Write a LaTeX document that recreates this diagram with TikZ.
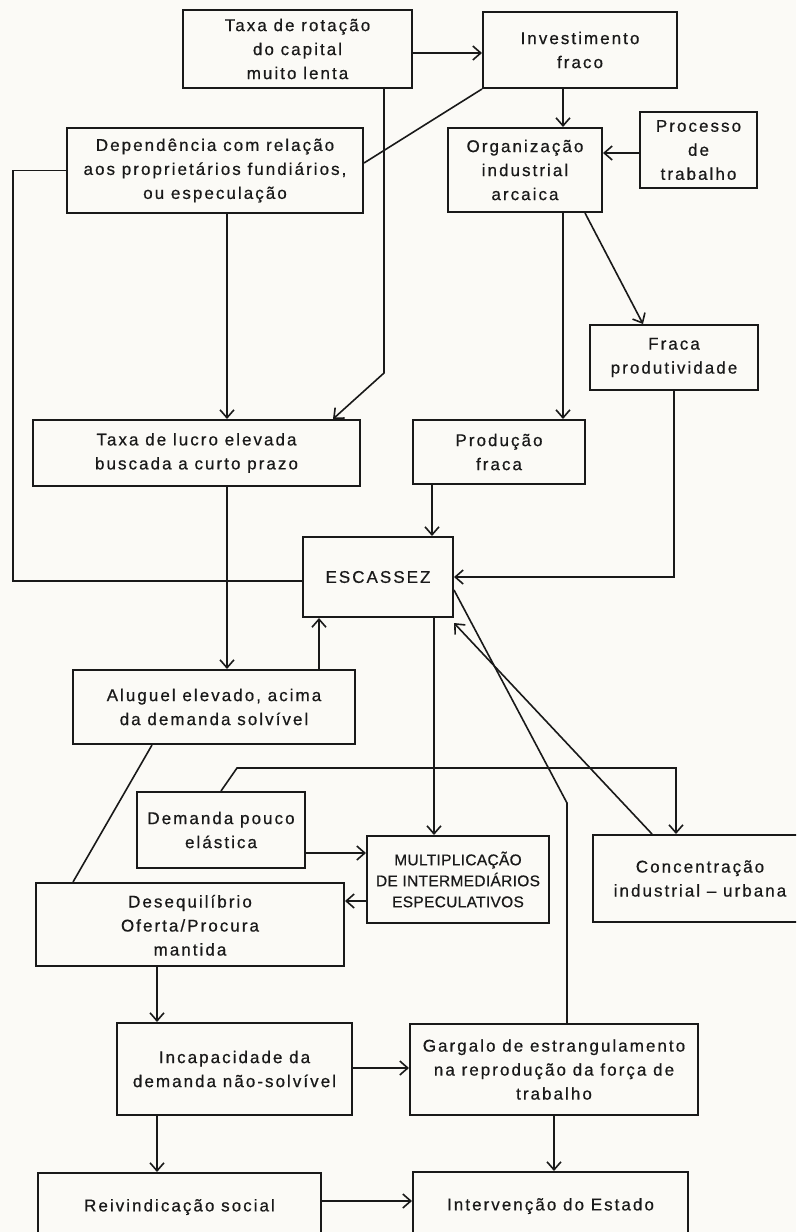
\documentclass[tikz,border=0pt]{standalone}
\usepackage{fontspec}
\setmainfont[LetterSpace=12,FakeBold=0.6]{Liberation Sans}
\newfontfamily\capsfont[LetterSpace=2,FakeBold=0.6]{Liberation Sans}
\usetikzlibrary{arrows.meta}
\definecolor{paper}{RGB}{251,250,246}
\definecolor{ink}{RGB}{25,25,25}
\begin{document}
\begin{tikzpicture}[x=1pt,y=-1pt,
  box/.style={draw=ink, line width=2pt, line join=miter, inner sep=2pt, align=center,
              text=ink, font=\fontsize{17}{24}\selectfont},
  arr/.style={draw=ink, line width=1.6pt, -{Straight Barb[length=8pt,width=14pt,line width=1.6pt]}},
  ln/.style={draw=ink, line width=1.6pt}]
\clip (0,0) rectangle (796,1232);
\fill[paper] (0,0) rectangle (796,1232);

% nodes
\node[box, minimum width=229pt, minimum height=78pt] (T1) at (297.5,49) {Taxa de rotação\\do capital\\muito lenta};
\node[box, minimum width=194pt, minimum height=76pt] (I) at (580,50) {Investimento\\fraco};
\node[box, minimum width=296pt, minimum height=85pt] (D) at (215,170.5) {Dependência com relação\\aos proprietários fundiários,\\ou especulação};
\node[box, minimum width=154pt, minimum height=84pt] (O) at (525,170) {Organização\\industrial\\arcaica};
\node[box, minimum width=117pt, minimum height=76pt] (P) at (698.5,150) {Processo\\de\\trabalho};
\node[box, minimum width=168pt, minimum height=65pt] (FP) at (674,357.5) {Fraca\\produtividade};
\node[box, minimum width=172pt, minimum height=64pt] (PR) at (499,452) {Produção\\fraca};
\node[box, minimum width=327pt, minimum height=66pt] (TL) at (196.5,453) {Taxa de lucro elevada\\buscada a curto prazo};
\node[box, minimum width=150pt, minimum height=80pt] (E) at (378,577) {ESCASSEZ};
\node[box, minimum width=282pt, minimum height=74pt] (A) at (214,707) {Aluguel elevado, acima\\da demanda solvível};
\node[box, minimum width=168pt, minimum height=76pt] (DP) at (221,830) {Demanda pouco\\elástica};
\node[box, minimum width=182pt, minimum height=87pt, font={\capsfont\fontsize{15.5}{21}\selectfont}] (M) at (458,879.5) {MULTIPLICAÇÃO\\DE INTERMEDIÁRIOS\\ESPECULATIVOS};
\node[box, minimum width=214pt, minimum height=87pt] (C) at (700,878.5) {Concentração\\industrial -- urbana};
\node[box, minimum width=308pt, minimum height=83pt, text depth=0pt] (DE) at (190,924.5) {\\[-10pt]Desequilíbrio\\Oferta/Procura\\mantida};
\node[box, minimum width=235pt, minimum height=92pt] (IN) at (234.5,1069) {Incapacidade da\\demanda não-solvível};
\node[box, minimum width=288pt, minimum height=91pt] (G) at (554,1069.5) {Gargalo de estrangulamento\\na reprodução da força de\\trabalho};
\node[box, minimum width=283pt, minimum height=68pt] (R) at (179.5,1207) {Reivindicação social};
\node[box, minimum width=275pt, minimum height=68pt] (IV) at (550.5,1206) {Intervenção do Estado};

% helper coordinates
\coordinate (xA) at (384,0);
\coordinate (xB) at (563,0);
\coordinate (xC) at (432,0);
\coordinate (xD) at (227,0);
\coordinate (xE) at (319,0);
\coordinate (xF) at (434,0);
\coordinate (xG) at (676,0);
\coordinate (xH) at (652,0);
\coordinate (xI) at (567,0);
\coordinate (xJ) at (152,0);
\coordinate (xK) at (73,0);
\coordinate (xL) at (333,0);
\coordinate (xM) at (585,0);
\coordinate (xN) at (643,0);
\coordinate (xO) at (157,0);
\coordinate (yA) at (0,53);
\coordinate (yB) at (0,853);
\coordinate (yC) at (0,901);
\coordinate (yD) at (0,1068);
\coordinate (yE) at (0,1201);
\coordinate (yF) at (0,153);

% connectors
\draw[arr] (T1.east |- yA) -- (I.west |- yA);
\draw[arr] (T1.south -| xA) -- (384,373) -- (TL.north -| xL);
\draw[ln] (I.south west) -- ([yshift=7.5pt]D.east);
\draw[arr] (I.south -| xB) -- (O.north -| xB);
\draw[arr] (P.west |- yF) -- (O.east |- yF);
\draw[arr] (O.south -| xB) -- (PR.north -| xB);
\draw[arr] (O.south -| xM) -- (FP.north -| xN);
\draw[arr] (FP.south) |- (E.east);
\draw[arr] (PR.south -| xC) -- (E.north -| xC);
\draw[arr] (D.south -| xD) -- (TL.north -| xD);
\draw[ln] (D.west) -- (13,170.5) |- ([yshift=-4pt]E.west);
\draw[arr] (TL.south -| xD) -- (A.north -| xD);
\draw[arr] (A.north -| xE) -- (E.south -| xE);
\draw[ln] (A.south -| xJ) -- (DE.north -| xK);
\draw[arr] (DP.north) -- (237,768) -- (676,768) -- (C.north -| xG);
\draw[arr] (DP.east |- yB) -- (M.west |- yB);
\draw[arr] (M.west |- yC) -- (DE.east |- yC);
\draw[arr] (E.south -| xF) -- (M.north -| xF);
\draw[arr] (C.north -| xH) -- ([yshift=-5pt]E.south east);
\draw[ln] (G.north -| xI) -- (567,803) -- ([yshift=-13pt]E.east);
\draw[arr] (DE.south -| xO) -- (IN.north -| xO);
\draw[arr] (IN.east |- yD) -- (G.west |- yD);
\draw[arr] (IN.south -| xO) -- (R.north -| xO);
\draw[arr] (G.south) -- (G.south |- IV.north);
\draw[arr] (R.east |- yE) -- (IV.west |- yE);
\end{tikzpicture}
\end{document}
